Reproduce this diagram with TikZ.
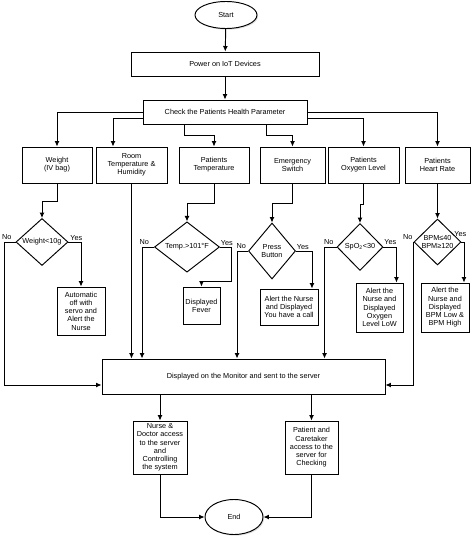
\documentclass[tikz,border=0pt]{standalone}
\usepackage{fontspec}
\setmainfont{Liberation Sans}
\usetikzlibrary{shapes.geometric,arrows.meta,shadows}
\begin{document}
\begin{tikzpicture}[x=1pt,y=-1pt,
  font=\fontsize{7.3}{8.2}\selectfont,
  line width=0.95pt,
  box/.style={draw,rectangle,fill=white,align=center,inner sep=1pt,
    drop shadow={shadow xshift=1.2pt,shadow yshift=-1.2pt,opacity=0.25,fill=gray}},
  oval/.style={draw,ellipse,fill=white,inner sep=1pt,
    drop shadow={shadow xshift=1.2pt,shadow yshift=-1.2pt,opacity=0.25,fill=gray}},
  dec/.style={draw,diamond,fill=white,align=center,inner sep=0pt,aspect=1},
  arr/.style={-{Latex[length=5.5pt,width=5pt]}},
  lbl/.style={inner sep=0.5pt}]
\useasboundingbox (0,0) rectangle (474,538);

\node[oval,minimum width=62pt,minimum height=27pt] (start) at (226,15) {Start};
\node[box,minimum width=188pt,minimum height=24pt] (power) at (225,64) {Power on IoT Devices};
\node[box,minimum width=164pt,minimum height=24pt] (check) at (225,112) {Check the Patients Health Parameter};

\node[box,minimum width=70pt,minimum height=36pt] (weight) at (57,165) {Weight\\(IV bag)};
\node[box,minimum width=71pt,minimum height=36pt] (room) at (131.5,165) {Room\\Temperature \&\\Humidity};
\node[box,minimum width=70pt,minimum height=36pt] (ptemp) at (214,165) {Patients\\Temperature};
\node[box,minimum width=65pt,minimum height=36pt] (emerg) at (292.5,165) {Emergency\\Switch};
\node[box,minimum width=71pt,minimum height=36pt] (oxy) at (363.5,165) {Patients\\Oxygen Level};
\node[box,minimum width=65pt,minimum height=36pt] (heart) at (437.5,165) {Patients\\Heart Rate};

\node[dec,minimum width=52pt,minimum height=47pt] (d1) at (42,242) {Weight<10g};
\node[dec,minimum width=65pt,minimum height=47pt] (d2) at (187,247) {Temp.>101°F};
\node[dec,minimum width=47pt,minimum height=56pt] (d3) at (272,251) {Press\\Button};
\node[dec,minimum width=46pt,minimum height=47pt] (d4) at (360,247) {SpO\textsubscript{2}<30};
\node[dec,minimum width=47pt,minimum height=46pt] (d5) at (437.5,242) {BPM≤40\\BPM≥120};

\node[box,minimum width=48pt,minimum height=48pt] (a1) at (81,311) {Automatic\\off with\\servo and\\Alert the\\Nurse};
\node[box,minimum width=37pt,minimum height=37pt] (fever) at (201.5,305.5) {Displayed\\Fever};
\node[box,minimum width=58pt,minimum height=36pt] (a3) at (289,307) {Alert the Nurse\\and Displayed\\You have a call};
\node[box,minimum width=47pt,minimum height=49pt] (a4) at (379.5,307.5) {Alert the\\Nurse and\\Displayed\\Oxygen\\Level LoW};
\node[box,minimum width=48pt,minimum height=49pt] (a5) at (445,307.5) {Alert the\\Nurse and\\Displayed\\BPM Low \&\\BPM High};

\node[box,minimum width=283pt,minimum height=35pt] (mon) at (243.5,376.5) {Displayed on the Monitor and sent to the server};

\node[box,minimum width=54pt,minimum height=53pt] (nurse) at (160,447.5) {Nurse \&\\Doctor access\\to the server\\and\\Controlling\\the system};
\node[box,minimum width=53pt,minimum height=53pt] (pat) at (311.5,447.5) {Patient and\\Caretaker\\access to the\\server for\\Checking};

\node[oval,minimum width=58pt,minimum height=35pt] (end) at (234,517) {End};

% top flow
\draw[arr] (start) -- (power);
\draw[arr] (power) -- (check);
\draw[arr] (check.west) -| (weight.north);
\draw[arr] ([yshift=-6pt]check.west) -| ([xshift=-18.5pt]room.north);
\draw[arr] ([xshift=-41pt]check.south) -- ++(0,11) -| (ptemp.north);
\draw[arr] ([xshift=41pt]check.south) -- ++(0,11) -| (emerg.north);
\draw[arr] ([yshift=-6pt]check.east) -| (oxy.north);
\draw[arr] (check.east) -| (heart.north);

% to decisions
\draw[arr] (weight.south) -- ++(0,18) -| (d1.north);
\draw[arr] (room.south) -- (room.south |- mon.north);
\draw[arr] (ptemp.south) -- ++(0,20) -| (d2.north);
\draw[arr] (emerg.south) -- ++(0,20) -| (d3.north);
\draw[arr] (oxy.south) -- ++(0,21) -| (d4.north);
\draw[arr] (heart.south) -- (d5.north);

% decision branches
\draw[arr] (d1.west) -- ++(-11,0) |- ([yshift=-8.5pt]mon.west);
\draw[arr] (d1.east) -| (a1.north);
\draw[arr] (d2.west) -- ++(-12,0) coordinate (t2) -- (t2 |- mon.north);
\draw[arr] (d2.east) -- ++(11.5,0) |- ([yshift=5pt]fever.north) -- (fever.north);
\draw[arr] (d3.west) -- ++(-11,0) coordinate (t3) -- (t3 |- mon.north);
\draw[arr] (d3.east) -- ++(16,0) coordinate (u3) -- (u3 |- a3.north);
\draw[arr] (d4.west) -- ++(-12,0) coordinate (t4) -- (t4 |- mon.north);
\draw[arr] (d4.east) -- ++(13,0) coordinate (u4) -- (u4 |- a4.north);
\draw[arr] (d5.west) |- ([yshift=-8.5pt]mon.east);
\draw[arr] (d5.east) -- ++(2.5,0) coordinate (u5) -- (u5 |- a5.north);

% labels
\node[lbl,anchor=south east] (n1) at ([xshift=-3pt,yshift=1pt]d1.west) {No};
\node[lbl,anchor=south west] (y1) at ([xshift=1pt,yshift=0pt]d1.east) {Yes};
\node[lbl,anchor=south east] (n2) at ([xshift=-4pt,yshift=1pt]d2.west) {No};
\node[lbl,anchor=south west] (y2) at ([xshift=0pt,yshift=0pt]d2.east) {Yes};
\node[lbl,anchor=south east] (n3) at ([xshift=-1pt,yshift=1pt]d3.west) {No};
\node[lbl,anchor=south west] (y3) at ([xshift=0pt,yshift=0pt]d3.east) {Yes};
\node[lbl,anchor=south east] (n4) at ([xshift=-2pt,yshift=1pt]d4.west) {No};
\node[lbl,anchor=south west] (y4) at ([xshift=0pt,yshift=1pt]d4.east) {Yes};
\node[lbl,anchor=south east] (n5) at ([xshift=0pt,yshift=1pt]d5.west) {No};
\node[lbl,anchor=south west] (y5) at ([xshift=-8pt,yshift=4pt]d5.east) {Yes};

% bottom
\draw[arr] (nurse.north |- mon.south) -- (nurse.north);
\draw[arr] (pat.north |- mon.south) -- (pat.north);
\draw[arr] (nurse.south) |- (end.west);
\draw[arr] (pat.south) |- (end.east);
\end{tikzpicture}
\end{document}
